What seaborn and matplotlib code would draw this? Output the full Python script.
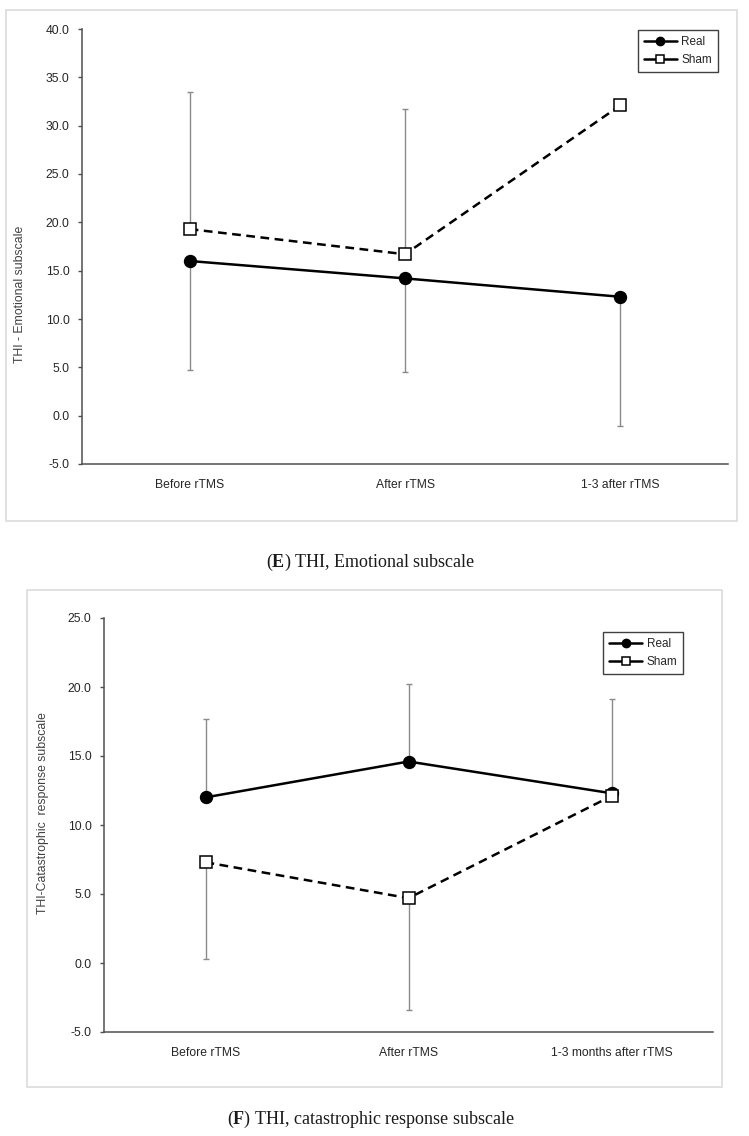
import pandas as pd
import seaborn as sns
import matplotlib.pyplot as plt
from matplotlib.patches import Rectangle
from matplotlib.lines import Line2D


# Data
times_e = ['Before rTMS', 'After rTMS', '1-3 after rTMS']
real_e = [16.0, 14.2, 12.3]
sham_e = [19.3, 16.7, 32.1]
real_e_sd_low = [11.3, 9.7, 13.4]      # drawn downward only
sham_e_sd_high = [14.2, 15.0, None]    # drawn upward only

times_f = ['Before rTMS', 'After rTMS', '1-3 months after rTMS']
real_f = [12.0, 14.6, 12.3]
sham_f = [7.3, 4.7, 12.1]
real_f_sd_high = [5.7, 5.6, 6.8]       # upward only
sham_f_sd_low = [7.0, 8.1, None]       # downward only

sns.set_theme(style='white')
plt.rcParams['font.family'] = ['Liberation Sans', 'DejaVu Sans']
plt.rcParams['mathtext.fontset'] = 'custom'
plt.rcParams['mathtext.rm'] = 'Liberation Serif'
plt.rcParams['mathtext.bf'] = 'Liberation Serif:bold'

W, H = 749, 1136
fig = plt.figure(figsize=(W / 100, H / 100), dpi=100)


def px_axes(x0, y0, x1, y1):
    return fig.add_axes([x0 / W, 1 - y1 / H, (x1 - x0) / W, (y1 - y0) / H])


def box(x0, y0, x1, y1):
    fig.patches.append(Rectangle((x0 / W, 1 - y1 / H), (x1 - x0) / W, (y1 - y0) / H,
                                 transform=fig.transFigure, fill=False,
                                 edgecolor='#dcdcdc', lw=1.2))


def draw_panel(ax, times, real, sham, real_err, sham_err, real_dir, ylim, ylabel,
               label_pos, legend_anchor):
    df = pd.DataFrame({
        'time': times * 2,
        'value': real + sham,
        'group': ['Real'] * 3 + ['Sham'] * 3,
    })

    # one-sided error bars (grey, thin)
    for vals, errs, up in [(real, real_err, real_dir == 'up'), (sham, sham_err, real_dir != 'up')]:
        xs = [t for t, e in zip(times, errs) if e is not None]
        ys = [v for v, e in zip(vals, errs) if e is not None]
        es = [e for e in errs if e is not None]
        low = [0] * len(es) if up else es
        high = es if up else [0] * len(es)
        ax.errorbar(xs, ys, yerr=[low, high], fmt='none', ecolor='#8a8a8a',
                    elinewidth=1, capsize=2.5, capthick=1, zorder=1)

    sns.lineplot(data=df, x='time', y='value', hue='group', style='group',
                 palette={'Real': 'black', 'Sham': 'black'},
                 markers={'Real': 'o', 'Sham': 's'},
                 dashes={'Real': '', 'Sham': (3.5, 2.2)},
                 markersize=8.5, linewidth=1.8, markeredgecolor='black',
                 markeredgewidth=1.1, sort=False, legend=False, ax=ax, zorder=3)
    lines = [l for l in ax.lines if l.get_marker() in ('o', 's')]
    for l in lines:
        if l.get_marker() == 's':
            l.set_markerfacecolor('white')

    ax.set_xlim(-0.5, 2.5)
    ax.set_ylim(*ylim)
    ax.set_yticks(range(ylim[0], ylim[1] + 1, 5))
    ax.set_yticklabels([f'{v:.1f}' for v in range(ylim[0], ylim[1] + 1, 5)])
    ax.set_xlabel('')
    ax.set_ylabel(ylabel, fontsize=8.8, color='#404040')
    ax.yaxis.set_label_coords(*label_pos)
    for s in ['top', 'right']:
        ax.spines[s].set_visible(False)
    for s in ['left', 'bottom']:
        ax.spines[s].set_color('#505050')
        ax.spines[s].set_linewidth(1.1)
    ax.tick_params(axis='y', left=True, length=3, width=1, color='#505050', pad=6,
                   labelsize=8.7, labelcolor='#262626')
    ax.tick_params(axis='x', bottom=False, pad=4.5, labelsize=8.7, labelcolor='#262626')

    handles = [Line2D([], [], color='black', lw=1.8, marker='o', markersize=6,
                      markerfacecolor='black', markeredgecolor='black'),
               Line2D([], [], color='black', lw=1.8, marker='s', markersize=6,
                      markerfacecolor='white', markeredgecolor='black', markeredgewidth=1.1)]
    leg = ax.legend(handles, ['Real', 'Sham'], loc='upper right', bbox_to_anchor=legend_anchor,
                    fontsize=8.5, frameon=True, fancybox=False, framealpha=1,
                    edgecolor='#404040', borderaxespad=0, handlelength=2.8,
                    handletextpad=0.35, labelspacing=0.55, borderpad=0.5)
    leg.get_frame().set_linewidth(1)


# Panel E
box(6, 10, 737, 521)
ax1 = px_axes(82, 29, 728, 464)
draw_panel(ax1, times_e, real_e, sham_e, real_e_sd_low, sham_e_sd_high, 'down',
           (-5, 40), 'THI - Emotional subscale', (-0.087, 0.39), (0.984, 0.998))
fig.text(371 / W, 1 - 562 / H, r'($\mathbf{E}$) THI, Emotional subscale',
         ha='center', va='center', fontsize=13, family='Liberation Serif', color='#1a1a1a')

# Panel F
box(27, 590, 722, 1087)
ax2 = px_axes(104, 618, 713, 1032)
draw_panel(ax2, times_f, real_f, sham_f, real_f_sd_high, sham_f_sd_low, 'up',
           (-5, 25), 'THI-Catastrophic  response subscale', (-0.09, 0.53), (0.951, 0.966))
fig.text(371 / W, 1 - 1119 / H, r'($\mathbf{F}$) THI, catastrophic response subscale',
         ha='center', va='center', fontsize=13, family='Liberation Serif', color='#1a1a1a')

fig.savefig('out.png', dpi=100)
